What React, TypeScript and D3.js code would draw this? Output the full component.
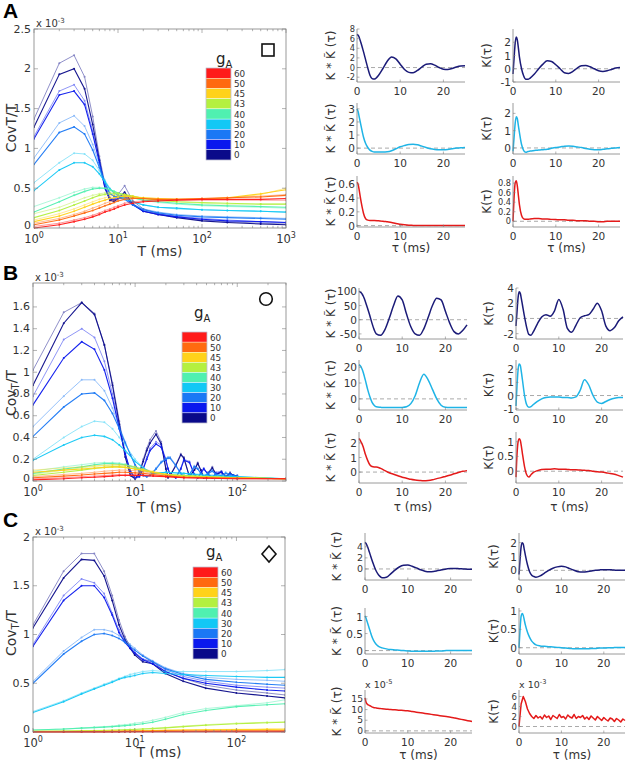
import React from 'react';
import * as d3 from 'd3';

const FONT = '"DejaVu Sans", "Liberation Sans", Arial, sans-serif';
const AX = '#808080';
const TX = '#333333';

// ---------- legend ----------
const G_LABELS = ['60', '50', '45', '43', '40', '30', '20', '10', '0'];
const G_COLORS = ['#ff1a1a', '#ff6a10', '#ffd21a', '#b4f040', '#50f0b0', '#12c8f5', '#1a78f5', '#0a18ee', '#0a0a8a'];
const SMALL_COLORS = ['#1b1b78', '#1fb4e6', '#e41a1a'];

// ---------- panel A main (CovT/T x1e-3) ----------
const T_A = [1, 2, 3, 4, 5, 6, 7, 8, 9, 10, 12, 15, 20, 30, 50, 100, 200, 500, 1000];
const A_G0_1 = [1.37, 2.07, 2.17, 1.9, 1.4, 0.9, 0.55, 0.38, 0.36, 0.42, 0.53, 0.34, 0.24, 0.18, 0.14, 0.1, 0.08, 0.06, 0.05];
const A_G0_2 = [1.27, 1.93, 2.0, 1.75, 1.3, 0.85, 0.5, 0.35, 0.33, 0.37, 0.45, 0.3, 0.21, 0.17, 0.13, 0.09, 0.07, 0.05, 0.04];
const A_G10_1 = [1.15, 1.72, 1.8, 1.6, 1.22, 0.85, 0.52, 0.37, 0.36, 0.39, 0.42, 0.3, 0.22, 0.18, 0.15, 0.12, 0.1, 0.08, 0.07];
const A_G10_2 = [1.12, 1.67, 1.72, 1.55, 1.18, 0.82, 0.5, 0.36, 0.35, 0.37, 0.4, 0.29, 0.21, 0.17, 0.14, 0.11, 0.09, 0.08, 0.07];
const A_G20_1 = [0.88, 1.32, 1.41, 1.28, 1.05, 0.8, 0.58, 0.44, 0.4, 0.39, 0.37, 0.3, 0.24, 0.2, 0.17, 0.15, 0.14, 0.13, 0.12];
const A_G20_2 = [0.8, 1.2, 1.27, 1.18, 0.98, 0.76, 0.56, 0.43, 0.4, 0.38, 0.36, 0.29, 0.23, 0.19, 0.16, 0.14, 0.13, 0.12, 0.11];
const A_G30_1 = [0.57, 0.82, 0.94, 0.93, 0.85, 0.72, 0.6, 0.5, 0.45, 0.42, 0.38, 0.33, 0.29, 0.26, 0.24, 0.23, 0.22, 0.21, 0.2];
const A_G30_2 = [0.47, 0.73, 0.82, 0.82, 0.77, 0.68, 0.58, 0.49, 0.44, 0.41, 0.37, 0.33, 0.29, 0.26, 0.25, 0.23, 0.22, 0.21, 0.2];
const A_G40_1 = [0.27, 0.38, 0.45, 0.49, 0.51, 0.51, 0.5, 0.48, 0.46, 0.44, 0.41, 0.38, 0.35, 0.32, 0.3, 0.28, 0.27, 0.26, 0.25];
const A_G40_2 = [0.2, 0.33, 0.41, 0.46, 0.49, 0.5, 0.5, 0.48, 0.46, 0.44, 0.41, 0.38, 0.35, 0.33, 0.31, 0.29, 0.28, 0.27, 0.26];
const A_G43_1 = [0.18, 0.26, 0.33, 0.38, 0.41, 0.43, 0.44, 0.45, 0.45, 0.44, 0.42, 0.4, 0.37, 0.35, 0.33, 0.31, 0.3, 0.3, 0.3];
const A_G43_2 = [0.13, 0.22, 0.29, 0.34, 0.38, 0.41, 0.42, 0.43, 0.43, 0.43, 0.42, 0.4, 0.37, 0.35, 0.33, 0.32, 0.31, 0.3, 0.3];
const A_G45_1 = [0.1, 0.18, 0.24, 0.29, 0.33, 0.36, 0.38, 0.4, 0.41, 0.41, 0.41, 0.4, 0.38, 0.37, 0.36, 0.36, 0.37, 0.42, 0.5];
const A_G45_2 = [0.08, 0.15, 0.21, 0.26, 0.3, 0.33, 0.35, 0.37, 0.38, 0.39, 0.4, 0.39, 0.38, 0.37, 0.36, 0.36, 0.38, 0.43, 0.48];
const A_G50_1 = [0.06, 0.12, 0.17, 0.21, 0.25, 0.28, 0.31, 0.33, 0.35, 0.36, 0.38, 0.38, 0.37, 0.36, 0.36, 0.37, 0.38, 0.4, 0.42];
const A_G50_2 = [0.04, 0.1, 0.15, 0.19, 0.22, 0.25, 0.28, 0.3, 0.32, 0.34, 0.36, 0.37, 0.37, 0.36, 0.36, 0.37, 0.38, 0.39, 0.41];
const A_G60_1 = [0.02, 0.06, 0.1, 0.13, 0.16, 0.19, 0.22, 0.24, 0.26, 0.28, 0.31, 0.33, 0.34, 0.35, 0.35, 0.35, 0.35, 0.35, 0.35];
const A_G60_2 = [0.0, 0.04, 0.08, 0.11, 0.14, 0.17, 0.2, 0.22, 0.24, 0.26, 0.29, 0.31, 0.33, 0.34, 0.35, 0.36, 0.36, 0.36, 0.37];

// ---------- panel B main ----------
const T_B_OSC = [1, 2, 3, 4, 5, 6, 7, 8, 9, 10, 11, 12, 13, 14, 16, 18, 20, 21, 22, 25, 28, 30, 34, 38, 41, 44, 47, 52, 57, 62, 70, 77, 85, 92, 100];
const T_B_SM = [1, 2, 3, 4, 5, 6, 7, 8, 10, 12, 15, 20, 30, 50, 100, 300];
const B_G0_1 = [1.02, 1.55, 1.64, 1.54, 1.25, 0.9, 0.55, 0.25, 0.06, 0.02, 0.08, 0.2, 0.3, 0.38, 0.46, 0.36, 0.12, 0.04, 0.05, 0.15, 0.25, 0.22, 0.04, 0.1, 0.17, 0.1, 0.03, 0.08, 0.13, 0.06, 0.09, 0.04, 0.08, 0.05, 0.05];
const B_G0_2 = [0.88, 1.45, 1.64, 1.53, 1.25, 0.88, 0.52, 0.22, 0.05, 0.02, 0.07, 0.18, 0.28, 0.35, 0.43, 0.34, 0.11, 0.03, 0.05, 0.14, 0.24, 0.21, 0.04, 0.1, 0.16, 0.1, 0.03, 0.07, 0.12, 0.06, 0.08, 0.04, 0.07, 0.05, 0.04];
const B_G10_1 = [0.78, 1.3, 1.4, 1.32, 1.1, 0.8, 0.5, 0.25, 0.08, 0.02, 0.04, 0.12, 0.22, 0.3, 0.36, 0.33, 0.2, 0.12, 0.06, 0.03, 0.12, 0.2, 0.18, 0.06, 0.03, 0.08, 0.12, 0.06, 0.03, 0.08, 0.09, 0.04, 0.07, 0.05, 0.05];
const B_G10_2 = [0.7, 1.13, 1.28, 1.21, 1.02, 0.76, 0.48, 0.25, 0.09, 0.03, 0.04, 0.11, 0.2, 0.28, 0.34, 0.31, 0.19, 0.11, 0.06, 0.03, 0.11, 0.19, 0.17, 0.06, 0.03, 0.07, 0.11, 0.06, 0.03, 0.07, 0.08, 0.04, 0.06, 0.05, 0.04];
const B_G20_1 = [0.5, 0.78, 0.93, 0.93, 0.83, 0.67, 0.5, 0.36, 0.24, 0.14, 0.08, 0.05, 0.04, 0.06, 0.12, 0.18, 0.21, 0.22, 0.22, 0.15, 0.07, 0.04, 0.06, 0.14, 0.12, 0.07, 0.04, 0.08, 0.1, 0.06, 0.05, 0.08, 0.06, 0.05, 0.05];
const B_G20_2 = [0.41, 0.68, 0.8, 0.81, 0.74, 0.62, 0.48, 0.35, 0.24, 0.15, 0.09, 0.05, 0.04, 0.05, 0.11, 0.17, 0.2, 0.21, 0.21, 0.14, 0.07, 0.04, 0.06, 0.13, 0.11, 0.07, 0.04, 0.07, 0.09, 0.06, 0.05, 0.07, 0.06, 0.05, 0.04];
const B_G30_1 = [0.2, 0.4, 0.5, 0.55, 0.54, 0.48, 0.4, 0.33, 0.2, 0.12, 0.07, 0.08, 0.07, 0.06, 0.04, 0.02];
const B_G30_2 = [0.19, 0.33, 0.4, 0.42, 0.41, 0.38, 0.33, 0.28, 0.18, 0.12, 0.07, 0.08, 0.07, 0.05, 0.04, 0.02];
const B_G40_1 = [0.09, 0.13, 0.15, 0.165, 0.17, 0.17, 0.165, 0.155, 0.13, 0.11, 0.08, 0.06, 0.05, 0.04, 0.03, 0.02];
const B_G40_2 = [0.07, 0.11, 0.13, 0.15, 0.16, 0.16, 0.155, 0.15, 0.125, 0.1, 0.08, 0.06, 0.05, 0.04, 0.03, 0.02];
const B_G43_1 = [0.06, 0.1, 0.12, 0.135, 0.14, 0.145, 0.145, 0.14, 0.12, 0.1, 0.08, 0.06, 0.05, 0.04, 0.03, 0.02];
const B_G43_2 = [0.05, 0.08, 0.1, 0.115, 0.125, 0.13, 0.13, 0.125, 0.11, 0.095, 0.08, 0.06, 0.05, 0.04, 0.03, 0.02];
const B_G45_1 = [0.1, 0.12, 0.13, 0.14, 0.145, 0.15, 0.15, 0.145, 0.13, 0.11, 0.09, 0.06, 0.04, 0.035, 0.03, 0.02];
const B_G45_2 = [0.08, 0.1, 0.11, 0.12, 0.125, 0.13, 0.13, 0.125, 0.11, 0.1, 0.08, 0.06, 0.04, 0.035, 0.03, 0.02];
const B_G50_1 = [0.04, 0.06, 0.07, 0.08, 0.09, 0.095, 0.1, 0.1, 0.095, 0.085, 0.07, 0.05, 0.035, 0.03, 0.025, 0.02];
const B_G50_2 = [0.03, 0.045, 0.055, 0.065, 0.07, 0.075, 0.08, 0.08, 0.075, 0.07, 0.06, 0.045, 0.035, 0.03, 0.025, 0.02];
const B_G60_1 = [0.02, 0.03, 0.04, 0.045, 0.05, 0.055, 0.06, 0.06, 0.06, 0.055, 0.05, 0.04, 0.03, 0.025, 0.02, 0.02];
const B_G60_2 = [0.01, 0.02, 0.03, 0.035, 0.04, 0.045, 0.05, 0.05, 0.05, 0.05, 0.045, 0.04, 0.03, 0.025, 0.02, 0.02];

// ---------- panel C main ----------
const T_C = [1, 2, 3, 4, 5, 6, 7, 8, 9, 10, 12, 15, 20, 30, 50, 100, 200, 300];
const C_G0_1 = [1.1, 1.65, 1.83, 1.83, 1.65, 1.4, 1.15, 0.98, 0.88, 0.8, 0.74, 0.72, 0.62, 0.55, 0.48, 0.43, 0.4, 0.38];
const C_G0_2 = [1.07, 1.58, 1.77, 1.76, 1.6, 1.35, 1.1, 0.95, 0.86, 0.79, 0.72, 0.7, 0.6, 0.52, 0.45, 0.4, 0.37, 0.35];
const C_G10_1 = [0.9, 1.4, 1.57, 1.53, 1.42, 1.22, 1.05, 0.93, 0.87, 0.82, 0.75, 0.72, 0.64, 0.57, 0.52, 0.48, 0.46, 0.45];
const C_G10_2 = [0.88, 1.35, 1.5, 1.5, 1.38, 1.2, 1.02, 0.92, 0.86, 0.81, 0.74, 0.7, 0.62, 0.55, 0.5, 0.46, 0.43, 0.42];
const C_G20_1 = [0.52, 0.83, 0.97, 1.05, 1.05, 1.03, 0.99, 0.95, 0.9, 0.86, 0.79, 0.73, 0.66, 0.6, 0.56, 0.54, 0.53, 0.52];
const C_G20_2 = [0.5, 0.8, 0.93, 1.0, 1.01, 0.99, 0.96, 0.92, 0.88, 0.84, 0.78, 0.72, 0.65, 0.59, 0.54, 0.51, 0.49, 0.48];
const C_G30_1 = [0.21, 0.32, 0.4, 0.45, 0.49, 0.52, 0.55, 0.57, 0.59, 0.6, 0.62, 0.63, 0.62, 0.62, 0.62, 0.62, 0.63, 0.64];
const C_G30_2 = [0.2, 0.31, 0.39, 0.44, 0.48, 0.51, 0.54, 0.56, 0.57, 0.58, 0.6, 0.61, 0.6, 0.59, 0.58, 0.57, 0.56, 0.56];
const C_G40_1 = [0.02, 0.03, 0.04, 0.05, 0.055, 0.06, 0.07, 0.075, 0.08, 0.09, 0.1, 0.12, 0.15, 0.2, 0.24, 0.27, 0.3, 0.33];
const C_G40_2 = [0.02, 0.03, 0.04, 0.045, 0.05, 0.055, 0.06, 0.065, 0.07, 0.075, 0.085, 0.1, 0.13, 0.18, 0.22, 0.26, 0.28, 0.29];
const C_G43_1 = [0.01, 0.012, 0.014, 0.016, 0.018, 0.02, 0.022, 0.024, 0.026, 0.028, 0.032, 0.038, 0.045, 0.06, 0.075, 0.09, 0.1, 0.105];
const C_G43_2 = [0.008, 0.01, 0.012, 0.014, 0.016, 0.018, 0.02, 0.022, 0.024, 0.026, 0.03, 0.035, 0.042, 0.055, 0.07, 0.085, 0.095, 0.1];
const C_G45_1 = [0.005, 0.006, 0.007, 0.008, 0.009, 0.01, 0.011, 0.012, 0.013, 0.014, 0.015, 0.017, 0.019, 0.022, 0.025, 0.028, 0.03, 0.031];
const C_G45_2 = [0.004, 0.005, 0.006, 0.007, 0.008, 0.009, 0.01, 0.011, 0.012, 0.012, 0.013, 0.015, 0.017, 0.02, 0.022, 0.025, 0.027, 0.028];
const C_G50_1 = [0.003, 0.004, 0.004, 0.005, 0.005, 0.006, 0.006, 0.007, 0.007, 0.008, 0.008, 0.009, 0.01, 0.011, 0.012, 0.013, 0.014, 0.015];
const C_G50_2 = [0.002, 0.003, 0.003, 0.004, 0.004, 0.005, 0.005, 0.006, 0.006, 0.006, 0.007, 0.008, 0.009, 0.01, 0.011, 0.012, 0.013, 0.013];
const C_G60_1 = [0.001, 0.001, 0.002, 0.002, 0.002, 0.002, 0.003, 0.003, 0.003, 0.003, 0.003, 0.004, 0.004, 0.004, 0.005, 0.005, 0.005, 0.005];
const C_G60_2 = [0, 0, 0.001, 0.001, 0.001, 0.001, 0.001, 0.002, 0.002, 0.002, 0.002, 0.002, 0.003, 0.003, 0.003, 0.003, 0.003, 0.004];

// ---------- small plots (tau in ms) ----------
const TAU = [0, 0.25, 0.5, 0.75, 1, 1.25, 1.5, 2, 2.5, 3, 3.5, 4, 5, 6, 7, 8, 9, 10, 11, 12, 13, 14, 15, 16, 17, 18, 19, 20, 21, 22, 23, 24, 25];
const TAU_FINE = [0, 0.5, 1, 1.5, 2, 2.5, 3, 3.5, 4, 4.5, 5, 5.5, 6, 6.5, 7, 7.5, 8, 8.5, 9, 9.5, 10, 10.5, 11, 11.5, 12, 12.5, 13, 13.5, 14, 14.5, 15, 15.5, 16, 16.5, 17, 17.5, 18, 18.5, 19, 19.5, 20, 20.5, 21, 21.5, 22, 22.5, 23, 23.5, 24, 24.5, 25];
const A_KK_0 = [6.9, 6.7, 6.3, 5.6, 4.9, 4.1, 3.3, 1.6, -0.1, -1.6, -2.3, -2.4, -1.6, -0.2, 1.3, 2.2, 1.8, 0.7, -0.4, -1.0, -1.1, -0.6, 0.1, 0.7, 0.8, 0.5, 0.0, -0.35, -0.4, -0.2, 0.1, 0.3, 0.35];
const A_K_0 = [-0.4, 0.8, 1.9, 2.4, 2.2, 1.6, 0.9, 0.0, -0.55, -0.8, -0.8, -0.7, -0.4, 0.0, 0.35, 0.6, 0.55, 0.3, 0.0, -0.3, -0.35, -0.2, 0.05, 0.22, 0.25, 0.15, 0.0, -0.15, -0.2, -0.15, -0.05, 0.05, 0.1];
const A_KK_30 = [3.0, 2.8, 2.4, 2.0, 1.6, 1.2, 0.85, 0.35, 0.05, -0.15, -0.25, -0.3, -0.3, -0.3, -0.28, -0.2, -0.05, 0.1, 0.2, 0.28, 0.3, 0.25, 0.15, 0.05, -0.05, -0.1, -0.12, -0.12, -0.1, -0.05, 0.0, 0.02, 0.05];
const A_K_30 = [-0.2, 0.6, 1.4, 1.8, 1.7, 1.3, 0.9, 0.2, -0.15, -0.25, -0.2, -0.18, -0.15, -0.12, -0.1, -0.08, -0.02, 0.03, 0.06, 0.1, 0.12, 0.1, 0.06, 0.02, -0.03, -0.08, -0.1, -0.1, -0.08, -0.05, -0.02, 0.0, 0.02];
const A_KK_60 = [0.63, 0.6, 0.52, 0.42, 0.33, 0.25, 0.18, 0.1, 0.08, 0.075, 0.075, 0.075, 0.07, 0.065, 0.055, 0.045, 0.03, 0.02, 0.012, 0.006, 0.003, 0, 0, 0, 0, 0, 0, 0, 0, 0, 0, 0, 0];
const A_K_60 = [0.0, 0.5, 0.8, 0.85, 0.75, 0.55, 0.35, 0.12, 0.05, 0.04, 0.04, 0.05, 0.06, 0.06, 0.05, 0.05, 0.04, 0.035, 0.03, 0.03, 0.02, 0.02, 0.01, 0.01, 0.01, 0.0, 0.0, -0.01, -0.01, 0.0, 0.0, 0.0, 0.0];
const B_KK_0 = [100, 98, 95, 90, 83, 74, 63, 40, 15, -12, -35, -50, -55, -35, 5, 50, 84, 70, 20, -25, -50, -55, -32, 8, 50, 76, 70, 30, -12, -42, -50, -38, -18];
const B_K_0 = [-1.0, 1.0, 2.8, 3.5, 3.3, 2.6, 1.8, 0.2, -1.2, -2.1, -2.2, -1.8, -0.7, 0.2, 0.5, 0.3, 1.0, 2.5, 1.2, -1.3, -1.8, -0.9, 0.1, 0.35, 0.5, 1.2, 2.0, 1.0, -1.0, -1.6, -1.2, -0.3, 0.2];
const B_KK_30 = [21.5, 21, 20, 18.5, 16.5, 14, 11.5, 6, 1.5, -2, -4, -5, -5.3, -5.5, -5.5, -5.5, -5.5, -5.4, -5, -3, 2, 10, 15.5, 12, 6, 0, -4, -5.3, -5.5, -5.5, -5.5, -5.5, -5.5];
const B_K_30 = [-0.8, 0.8, 2.0, 2.4, 2.3, 1.8, 1.2, 0.0, -0.7, -0.9, -0.85, -0.7, -0.45, -0.25, -0.15, -0.12, -0.12, -0.12, -0.15, -0.15, -0.18, -0.1, 0.4, 1.2, 0.8, 0.0, -0.5, -0.6, -0.45, -0.3, -0.2, -0.15, -0.15];
const B_KK_60 = [2.3, 2.2, 2.05, 1.9, 1.7, 1.45, 1.2, 0.8, 0.5, 0.38, 0.35, 0.35, 0.25, 0.1, -0.05, -0.15, -0.25, -0.35, -0.42, -0.5, -0.55, -0.58, -0.6, -0.58, -0.53, -0.45, -0.38, -0.3, -0.22, -0.12, -0.03, 0.05, 0.1];
const B_K_60 = [-0.2, 0.6, 1.0, 1.1, 1.05, 0.85, 0.6, 0.15, -0.12, -0.2, -0.12, -0.05, 0.02, 0.06, 0.07, 0.07, 0.08, 0.07, 0.07, 0.06, 0.05, 0.05, 0.04, 0.03, 0.02, 0.0, -0.02, -0.03, -0.05, -0.08, -0.1, -0.15, -0.2];
const C_KK_0 = [4.8, 4.6, 4.2, 3.7, 3.1, 2.5, 1.9, 0.8, -0.2, -0.9, -1.35, -1.6, -1.5, -0.9, -0.2, 0.35, 0.65, 0.7, 0.5, 0.2, -0.15, -0.4, -0.5, -0.45, -0.3, -0.15, 0.0, 0.1, 0.1, 0.05, 0.0, -0.05, -0.05];
const C_K_0 = [-0.3, 0.8, 1.7, 2.0, 1.9, 1.5, 1.1, 0.4, -0.1, -0.35, -0.45, -0.5, -0.4, -0.2, 0.0, 0.15, 0.25, 0.3, 0.25, 0.12, 0.0, -0.1, -0.12, -0.1, -0.05, 0.0, 0.03, 0.05, 0.05, 0.03, 0.0, 0.0, 0.0];
const C_KK_30 = [1.02, 0.95, 0.85, 0.75, 0.65, 0.55, 0.45, 0.3, 0.2, 0.14, 0.1, 0.08, 0.05, 0.03, 0.02, 0.01, 0.0, -0.01, -0.02, -0.02, -0.02, -0.02, -0.02, -0.02, -0.01, -0.01, 0, 0, 0, 0, 0, 0, 0];
const C_K_30 = [0.0, 0.5, 0.85, 0.93, 0.88, 0.75, 0.62, 0.42, 0.28, 0.18, 0.12, 0.08, 0.05, 0.04, 0.03, 0.02, 0.01, 0.0, -0.01, -0.02, -0.03, -0.03, -0.03, -0.03, -0.02, -0.02, -0.01, -0.01, 0, 0, 0.01, 0.01, 0.01];
const C_KK_60 = [15.5, 13.5, 12.6, 12.2, 12.0, 11.7, 11.4, 11.0, 10.8, 10.6, 10.5, 10.4, 10.2, 10.0, 9.9, 9.7, 9.6, 9.4, 9.1, 8.8, 8.5, 8.2, 7.9, 7.6, 7.3, 7.0, 6.7, 6.4, 6.0, 5.6, 5.2, 4.8, 4.4];
const C_K_60 = [0.0, 4.5, 6.0, 5.0, 3.5, 2.6, 2.0, 1.6, 2.2, 1.7, 2.0, 1.5, 2.3, 1.8, 2.1, 1.4, 2.2, 1.9, 1.6, 2.4, 1.8, 2.0, 1.5, 2.3, 1.9, 1.7, 2.4, 1.6, 2.0, 1.8, 2.2, 1.5, 1.9, 1.4, 2.1, 1.7, 1.3, 2.0, 1.6, 1.2, 1.8, 1.4, 1.1, 1.7, 1.5, 1.0, 1.6, 1.3, 0.9, 1.5, 1.2];

// ---------- helpers ----------
type Line = { g: number; ts: number[]; v: number[]; k: number };
// pairs listed from g=0 (colour index 8) up to g=60 (colour index 0)
function buildLines(pairs: [number[], number[], number[]][]): Line[] {
  const out: Line[] = [];
  pairs.forEach((p, i) => {
    const g = 8 - i;
    out.push({ g, ts: p[0], v: p[1], k: 1 });
    out.push({ g, ts: p[0], v: p[2], k: 2 });
  });
  return out;
}

const A_LINES = buildLines([
  [T_A, A_G0_1, A_G0_2], [T_A, A_G10_1, A_G10_2], [T_A, A_G20_1, A_G20_2], [T_A, A_G30_1, A_G30_2],
  [T_A, A_G40_1, A_G40_2], [T_A, A_G43_1, A_G43_2], [T_A, A_G45_1, A_G45_2], [T_A, A_G50_1, A_G50_2], [T_A, A_G60_1, A_G60_2],
]);
const B_LINES = buildLines([
  [T_B_OSC, B_G0_1, B_G0_2], [T_B_OSC, B_G10_1, B_G10_2], [T_B_OSC, B_G20_1, B_G20_2], [T_B_SM, B_G30_1, B_G30_2],
  [T_B_SM, B_G40_1, B_G40_2], [T_B_SM, B_G43_1, B_G43_2], [T_B_SM, B_G45_1, B_G45_2], [T_B_SM, B_G50_1, B_G50_2], [T_B_SM, B_G60_1, B_G60_2],
]);
const C_LINES = buildLines([
  [T_C, C_G0_1, C_G0_2], [T_C, C_G10_1, C_G10_2], [T_C, C_G20_1, C_G20_2], [T_C, C_G30_1, C_G30_2],
  [T_C, C_G40_1, C_G40_2], [T_C, C_G43_1, C_G43_2], [T_C, C_G45_1, C_G45_2], [T_C, C_G50_1, C_G50_2], [T_C, C_G60_1, C_G60_2],
]);

const fmt = (v: number) => String(+v.toFixed(3));

function Exp({ x, y, e, size = 10 }: { x: number; y: number; e: string; size?: number }) {
  return (
    <text x={x} y={y} fontSize={size} fill={TX}>
      x 10<tspan dy={-size * 0.45} fontSize={size * 0.7}>{e}</tspan>
    </text>
  );
}

function MainPanel(p: any) {
  const { id, x0, x1, y0, y1, xDomain, yDomain, yTicks, lines, legend, marker, letter, letterY, sub, ylabelY, xlabelY } = p;
  const x = d3.scaleLog().domain(xDomain).range([x0, x1]);
  const y = d3.scaleLinear().domain(yDomain).range([y1, y0]);
  const line = d3.line<number[]>().x((d) => x(d[0])).y((d) => y(d[1]));
  const xt = x.ticks();
  const isMajor = (t: number) => Math.abs(Math.log10(t) - Math.round(Math.log10(t))) < 1e-9;
  const bh = legend.h / 9;
  return (
    <g>
      <defs>
        <clipPath id={id}>
          <rect x={x0} y={y0} width={x1 - x0} height={y1 - y0 + 1} />
        </clipPath>
      </defs>
      <g clipPath={`url(#${id})`}>
        {lines.map((l: Line, i: number) => {
          const pts = l.ts.map((t, j) => [t, l.v[j]]);
          const c = G_COLORS[l.g];
          return (
            <g key={i} opacity={l.k === 1 ? 0.5 : 0.95}>
              <path d={line(pts) || ''} fill="none" stroke={c} strokeWidth={l.k === 1 ? 0.9 : 1.1} />
              {pts.map((q, j) => (
                <circle key={j} cx={x(q[0])} cy={y(q[1])} r={1} fill={c} />
              ))}
            </g>
          );
        })}
      </g>
      <rect x={x0} y={y0} width={x1 - x0} height={y1 - y0} fill="none" stroke={AX} strokeWidth={0.8} />
      {xt.map((t, i) => {
        const L = isMajor(t) ? 4 : 2.2;
        const xx = x(t);
        return (
          <g key={i} stroke={AX} strokeWidth={0.6}>
            <line x1={xx} x2={xx} y1={y1} y2={y1 - L} />
            <line x1={xx} x2={xx} y1={y0} y2={y0 + L} />
          </g>
        );
      })}
      {xt.filter(isMajor).map((t, i) => (
        <text key={i} x={x(t)} y={y1 + 15} fontSize={11.5} fill={TX} textAnchor="middle">
          10<tspan dy={-5} fontSize={8}>{Math.round(Math.log10(t))}</tspan>
        </text>
      ))}
      {yTicks.map((v: number, i: number) => (
        <g key={i}>
          <line x1={x0} x2={x0 + 4} y1={y(v)} y2={y(v)} stroke={AX} strokeWidth={0.6} />
          <line x1={x1} x2={x1 - 4} y1={y(v)} y2={y(v)} stroke={AX} strokeWidth={0.6} />
          <text x={x0 - 3} y={v === 0 ? y(v) - 2.5 : y(v)} fontSize={11} fill={TX} textAnchor="end" dominantBaseline="central">{fmt(v)}</text>
        </g>
      ))}
      <Exp x={x0 + 2} y={y0 - 2} e="-3" />
      <text x={3} y={letterY} fontSize={21} fontWeight="bold" fill="#000" fontFamily='"Liberation Sans", Arial, sans-serif'>{letter}</text>
      <text transform={`translate(11, ${ylabelY}) rotate(-90)`} fontSize={14} fill={TX} textAnchor="middle" dominantBaseline="central">
        {sub ? (<>Cov<tspan dy={4} fontSize={10}>T</tspan><tspan dy={-4}>/T</tspan></>) : 'CovT/T'}
      </text>
      <text x={(x0 + x1) / 2} y={xlabelY} fontSize={14} fill={TX} textAnchor="middle">T (ms)</text>
      {/* colour legend */}
      {G_LABELS.map((lab, i) => (
        <g key={lab}>
          <rect x={legend.x} y={legend.y + i * bh} width={legend.w} height={bh} fill={G_COLORS[i]} stroke="#ffffff" strokeWidth={0.4} />
          <text x={legend.x + legend.w + 3} y={legend.y + i * bh + bh / 2 + 0.5} fontSize={8.8} fill={TX} dominantBaseline="central">{lab}</text>
        </g>
      ))}
      <rect x={legend.x} y={legend.y} width={legend.w} height={legend.h} fill="none" stroke="#9a9ab8" strokeWidth={0.5} />
      <text x={legend.gx} y={legend.gy} fontSize={15} fill="#222">
        g<tspan dy={4} fontSize={10}>A</tspan>
      </text>
      {marker.type === 'square' && (
        <rect x={marker.cx - 6} y={marker.cy - 6} width={12} height={12} fill="#fff" stroke="#111" strokeWidth={1.6} />
      )}
      {marker.type === 'circle' && <circle cx={marker.cx} cy={marker.cy} r={6.3} fill="#fff" stroke="#111" strokeWidth={1.6} />}
      {marker.type === 'diamond' && (
        <path d={`M${marker.cx},${marker.cy - 8}L${marker.cx + 7},${marker.cy}L${marker.cx},${marker.cy + 8}L${marker.cx - 7},${marker.cy}Z`} fill="#fff" stroke="#111" strokeWidth={1.6} />
      )}
    </g>
  );
}

function SmallPlot(p: any) {
  const { x0, x1, y0, y1, dom, ticks, xs, vs, color, kind, labelX, exp, linear } = p;
  const x = d3.scaleLinear().domain([0, 25]).range([x0, x1]);
  const y = d3.scaleLinear().domain(dom).range([y1, y0]);
  const line = d3
    .line<number[]>()
    .x((d) => x(d[0]))
    .y((d) => y(d[1]))
    .curve(linear ? d3.curveLinear : d3.curveMonotoneX);
  const pts = xs.map((t: number, i: number) => [t, vs[i]]);
  const cy = (y0 + y1) / 2;
  // shrink tick labels when they are tightly packed
  const gap = ticks.length > 1 ? Math.abs(y(ticks[1]) - y(ticks[0])) : 20;
  const tfs = Math.min(10.5, gap * 0.86);
  return (
    <g>
      <line x1={x0} x2={x1} y1={y(0)} y2={y(0)} stroke="#a0a0a0" strokeWidth={0.9} strokeDasharray="4,3" />
      <path d={line(pts) || ''} fill="none" stroke={color} strokeWidth={1.5} strokeLinejoin="round" />
      <line x1={x0} x2={x0} y1={y0} y2={y1} stroke={AX} strokeWidth={0.8} />
      <line x1={x0} x2={x1} y1={y1} y2={y1} stroke={AX} strokeWidth={0.8} />
      {[0, 10, 20].map((t) => (
        <g key={t}>
          <line x1={x(t)} x2={x(t)} y1={y1} y2={y1 - 2.5} stroke={AX} strokeWidth={0.6} />
          <text x={x(t)} y={y1 + 13} fontSize={10.5} fill={TX} textAnchor="middle">{t}</text>
        </g>
      ))}
      {ticks.map((v: number) => (
        <g key={v}>
          <line x1={x0} x2={x0 + 2.5} y1={y(v)} y2={y(v)} stroke={AX} strokeWidth={0.6} />
          <text x={x0 - 2} y={y(v)} fontSize={tfs} fill={TX} textAnchor="end" dominantBaseline="central">{fmt(v)}</text>
        </g>
      ))}
      {exp && <Exp x={x0} y={y0 - 2} e={exp} size={9.5} />}
      <text transform={`translate(${labelX}, ${cy}) rotate(-90)`} fontSize={12} fill={TX} textAnchor="middle" dominantBaseline="central">
        {kind === 'kk' ? 'K * K\u0303 (\u03c4)' : 'K(\u03c4)'}
      </text>
    </g>
  );
}

// layout of the small plots (positions only)
const SMALL_LAYOUT = [
  { left: [357, 465], right: [513, 620], rows: [[29, 82], [103, 154], [176, 227]], lx: 331, rx: 487, tauY: 252 },
  { left: [359, 467], right: [516, 623], rows: [[288, 339], [360, 410], [432, 483]], lx: 331, rx: 489, tauY: 511 },
  { left: [365, 472], right: [519, 625], rows: [[533, 580], [608, 654], [690, 733]], lx: 337, rx: 494, tauY: 759 },
];

const SMALL_DATA = [
  [
    { kk: A_KK_0, k: A_K_0, kkDom: [-3, 8], kkT: [-2, 0, 2, 4, 6, 8], kDom: [-1, 3], kT: [-1, 0, 1, 2] },
    { kk: A_KK_30, k: A_K_30, kkDom: [-0.45, 3.45], kkT: [0, 1, 2, 3], kDom: [-0.35, 2.6], kT: [0, 1, 2] },
    { kk: A_KK_60, k: A_K_60, kkDom: [-0.02, 0.72], kkT: [0, 0.2, 0.4, 0.6], kDom: [-0.12, 0.95], kT: [0, 0.2, 0.4, 0.6, 0.8] },
  ],
  [
    { kk: B_KK_0, k: B_K_0, kkDom: [-68, 112], kkT: [-50, 0, 50, 100], kDom: [-2.7, 4.0], kT: [-2, 0, 2, 4] },
    { kk: B_KK_30, k: B_K_30, kkDom: [-7, 24.5], kkT: [0, 10, 20], kDom: [-1.1, 2.7], kT: [-1, 0, 1, 2] },
    { kk: B_KK_60, k: B_K_60, kkDom: [-0.75, 2.75], kkT: [0, 1, 2], kDom: [-0.4, 1.33], kT: [0, 0.5, 1] },
  ],
  [
    { kk: C_KK_0, k: C_K_0, kkDom: [-2, 6.5], kkT: [0, 2, 4], kDom: [-0.7, 2.7], kT: [0, 1, 2] },
    { kk: C_KK_30, k: C_K_30, kkDom: [-0.1, 1.25], kkT: [0, 0.5, 1], kDom: [-0.17, 1.08], kT: [0, 0.5, 1] },
    { kk: C_KK_60, k: C_K_60, kkDom: [-1, 19.2], kkT: [0, 5, 10, 15], kDom: [-1.3, 7.3], kT: [0, 2, 4, 6], kkExp: '-5', kExp: '-3', kFine: true },
  ],
];

export default function App() {
  return (
    <svg
      width={631}
      height={769}
      viewBox="0 0 631 769"
      style={{ position: 'absolute', left: 0, top: 0, background: '#fff' }}
      fontFamily={FONT}
    >
      <rect width={631} height={769} fill="#fff" />
      <MainPanel
        id="clipA" x0={34} x1={286} y0={29} y1={228} xDomain={[1, 1000]} yDomain={[0, 2.5]}
        yTicks={[0, 0.5, 1, 1.5, 2, 2.5]} lines={A_LINES}
        legend={{ x: 206, y: 68, w: 25, h: 92, gx: 216, gy: 64 }}
        marker={{ type: 'square', cx: 268, cy: 50 }} letter="A" letterY={18} sub={false} ylabelY={128} xlabelY={256}
      />
      <MainPanel
        id="clipB" x0={33} x1={286} y0={283} y1={481} xDomain={[1, 300]} yDomain={[0, 1.82]}
        yTicks={[0, 0.2, 0.4, 0.6, 0.8, 1, 1.2, 1.4, 1.6]} lines={B_LINES}
        legend={{ x: 182, y: 332, w: 25, h: 91, gx: 194, gy: 318 }}
        marker={{ type: 'circle', cx: 266, cy: 299 }} letter="B" letterY={280} sub={true} ylabelY={393} xlabelY={512}
      />
      <MainPanel
        id="clipC" x0={33} x1={285} y0={537} y1={732} xDomain={[1, 300]} yDomain={[0, 2]}
        yTicks={[0, 0.5, 1, 1.5, 2]} lines={C_LINES}
        legend={{ x: 193, y: 567, w: 25, h: 92, gx: 206, gy: 557 }}
        marker={{ type: 'diamond', cx: 269, cy: 554 }} letter="C" letterY={527} sub={true} ylabelY={633} xlabelY={757}
      />
      {SMALL_LAYOUT.map((L, pi) => (
        <g key={pi}>
          {L.rows.map((r, ri) => {
            const d: any = SMALL_DATA[pi][ri];
            return (
              <g key={ri}>
                <SmallPlot x0={L.left[0]} x1={L.left[1]} y0={r[0]} y1={r[1]} dom={d.kkDom} ticks={d.kkT}
                  xs={TAU} vs={d.kk} color={SMALL_COLORS[ri]} kind="kk" labelX={L.lx} exp={d.kkExp} />
                <SmallPlot x0={L.right[0]} x1={L.right[1]} y0={r[0]} y1={r[1]} dom={d.kDom} ticks={d.kT}
                  xs={d.kFine ? TAU_FINE : TAU} vs={d.k} color={SMALL_COLORS[ri]} kind="k" labelX={L.rx} exp={d.kExp} linear={d.kFine} />
              </g>
            );
          })}
          <text x={(L.left[0] + L.left[1]) / 2} y={L.tauY} fontSize={12} fill={TX} textAnchor="middle">{'\u03c4 (ms)'}</text>
          <text x={(L.right[0] + L.right[1]) / 2} y={L.tauY} fontSize={12} fill={TX} textAnchor="middle">{'\u03c4 (ms)'}</text>
        </g>
      ))}
    </svg>
  );
}
